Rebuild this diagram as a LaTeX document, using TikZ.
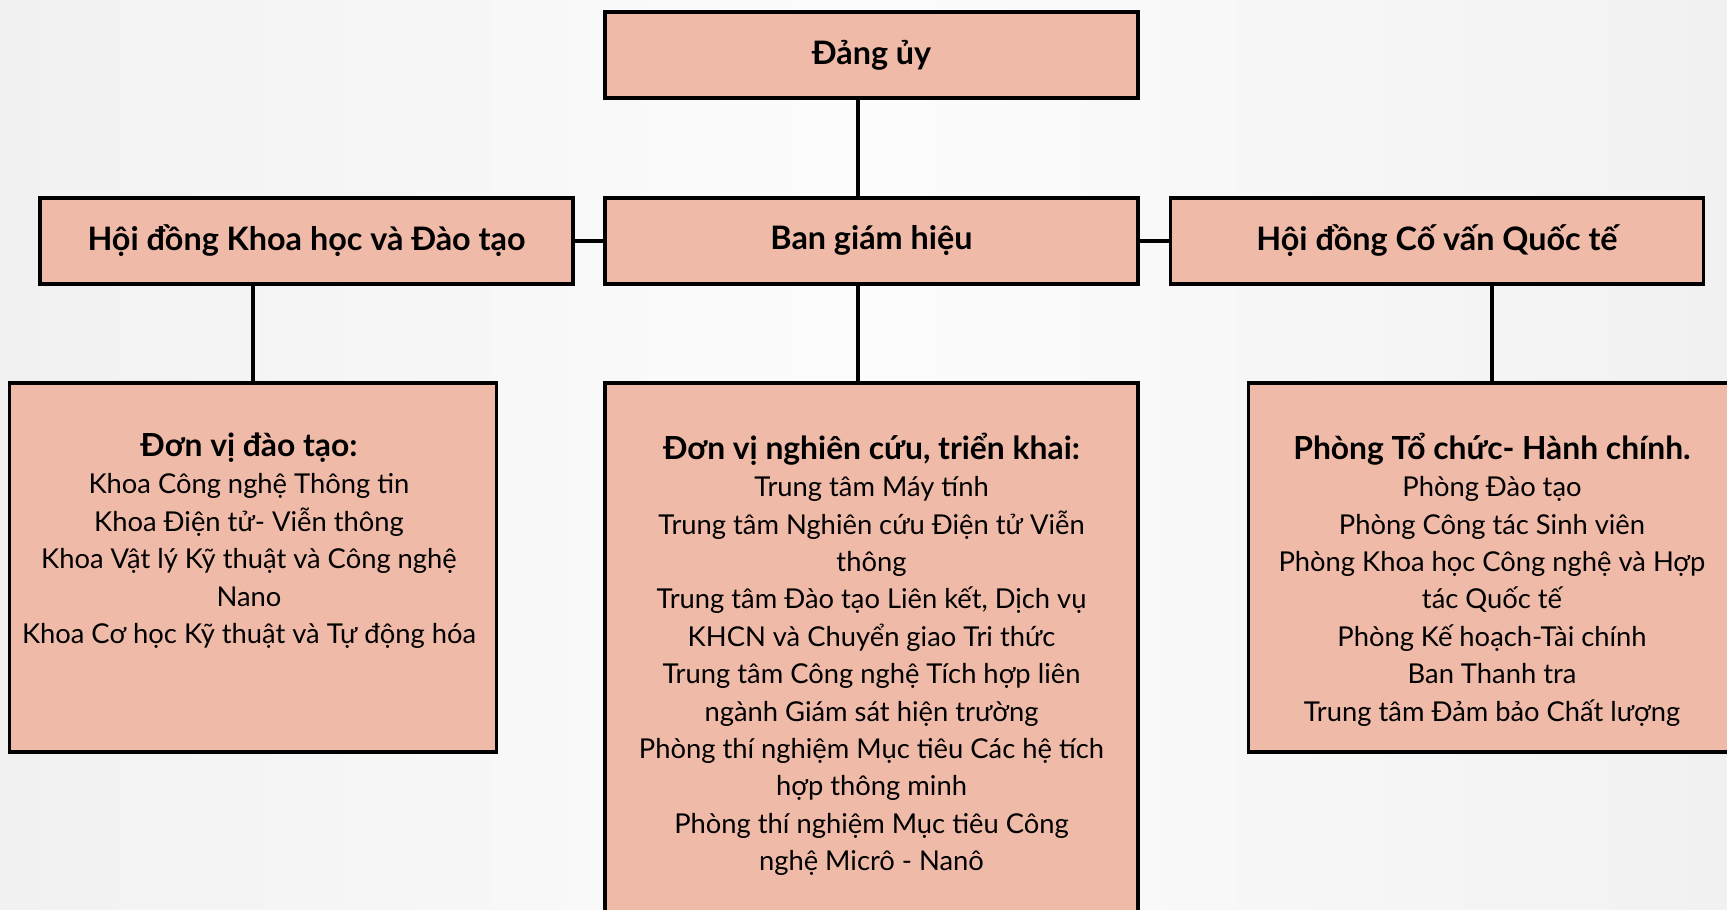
\documentclass[tikz,border=0pt]{standalone}
\usepackage{fontspec}
\setmainfont{Lato}
\usetikzlibrary{positioning}
\definecolor{boxpink}{RGB}{239,186,168}
\tikzset{
	unitbox/.style={draw=black, line width=1pt, fill=boxpink, inner sep=0pt},
	headtext/.style={font=\fontsize{9.2}{11}\selectfont\bfseries},
	listtext/.style={align=center, inner sep=0pt, anchor=north, font=\fontsize{7.78}{10.64}\selectfont},
	link/.style={draw=black, line width=1pt}
}
\begin{document}
\begin{tikzpicture}
	\newcommand\topW{5.33}
	\newcommand\topH{0.86}
	\newcommand\lowW{4.87}
	\newcommand\lowH{3.69}
	\newcommand\lowY{0.51}
	\newcommand\listhead[1]{{\bfseries\fontsize{9.05}{10.64}\selectfont #1}}

	\shade[left color=gray!11, right color=gray!11, middle color=gray!2] (0,0) rectangle (17.27,9.09); % background
	\useasboundingbox (0,0) rectangle (17.27,9.09);

	\node[unitbox, headtext, minimum width=\topW cm, minimum height=\topH cm] (dang) at (8.715,8.54) {Đảng ủy};
	\node[unitbox, headtext, minimum width=\topW cm, minimum height=\topH cm] (bgh) at (8.715,6.68) {Ban giám hiệu};
	\node[unitbox, headtext, minimum width=\topW cm, minimum height=\topH cm] (hdkh) at (3.065,6.68) {Hội đồng Khoa học và Đào tạo};
	\node[unitbox, headtext, minimum width=\topW cm, minimum height=\topH cm] (hdcv) at (14.37,6.68) {Hội đồng Cố vấn Quốc tế};

	\node[unitbox, minimum width=\lowW cm, minimum height=\lowH cm] (dvdt) at (2.53,3.415) {};
	\node[unitbox, minimum width=\topW cm, minimum height=5.47cm] (dvnc) at (8.715,2.525) {};
	\node[unitbox, minimum width=\lowW cm, minimum height=\lowH cm] (ptc) at (14.92,3.415) {};

	\node[listtext] (dvdtlist) at ([xshift=-0.04cm, yshift=-\lowY cm]dvdt.north) {\listhead{Đơn vị đào tạo:}\\
		Khoa Công nghệ Thông tin\\
		Khoa Điện tử- Viễn thông\\
		Khoa Vật lý Kỹ thuật và Công nghệ\\
		Nano\\
		Khoa Cơ học Kỹ thuật và Tự động hóa};
	\node[listtext] (dvnclist) at ([yshift=-\lowY cm]dvnc.north) {\listhead{Đơn vị nghiên cứu, triển khai:}\\
		Trung tâm Máy tính\\
		Trung tâm Nghiên cứu Điện tử Viễn\\
		thông\\
		Trung tâm Đào tạo Liên kết, Dịch vụ\\
		KHCN và Chuyển giao Tri thức\\
		Trung tâm Công nghệ Tích hợp liên\\
		ngành Giám sát hiện trường\\
		Phòng thí nghiệm Mục tiêu Các hệ tích\\
		hợp thông minh\\
		Phòng thí nghiệm Mục tiêu Công\\
		nghệ Micrô - Nanô};
	\node[listtext] (ptclist) at ([yshift=-\lowY cm]ptc.north) {\listhead{Phòng Tổ chức- Hành chính.}\\
		Phòng Đào tạo\\
		Phòng Công tác Sinh viên\\
		Phòng Khoa học Công nghệ và Hợp\\
		tác Quốc tế\\
		Phòng Kế hoạch-Tài chính\\
		Ban Thanh tra\\
		Trung tâm Đảm bảo Chất lượng};

	\draw[link] ([xshift=-0.135cm]dang.south) -- ([xshift=-0.135cm]bgh.north);
	\draw[link] ([xshift=-0.135cm]bgh.south) -- ([xshift=-0.135cm]dvnc.north);
	\draw[link] (hdkh) -- (bgh);
	\draw[link] (bgh) -- (hdcv);
	\draw[link] (dvdt.north) -- (dvdt.north |- hdkh.south);
	\draw[link] (ptc.north) -- (ptc.north |- hdcv.south);
\end{tikzpicture}
\end{document}
